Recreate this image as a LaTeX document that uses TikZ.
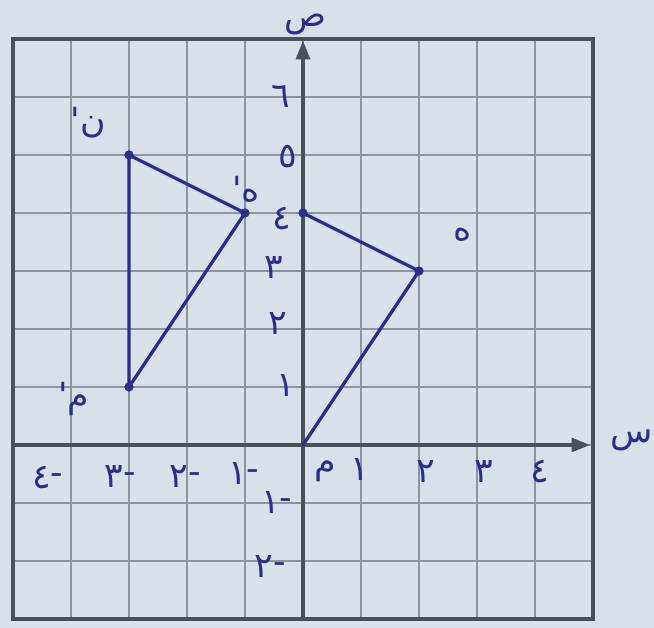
\documentclass[tikz,border=0pt]{standalone}
\usepackage{fontspec}
\newfontfamily\arabicfont[Script=Arabic]{DejaVu Sans}
\TeXXeTstate=1
\usepackage{tikz}
\usetikzlibrary{arrows.meta}
\definecolor{paper}{HTML}{D9E0E9}
\definecolor{gridgray}{HTML}{8E959E}
\definecolor{axisgray}{HTML}{4B5159}
\definecolor{inkblue}{HTML}{28308C}

\newcommand{\negnum}[1]{\hbox{#1}\raisebox{0.22ex}{\hbox{-}}}

\tikzset{
  lbl/.style={text=inkblue,font=\arabicfont\fontsize{17}{17}\selectfont,inner sep=0pt},
  inkline/.style={draw=inkblue,line width=1.6pt,line cap=round,line join=round},
  dotpt/.style={circle,fill=inkblue,inner sep=0pt,minimum size=1.6mm},
  axisline/.style={draw=axisgray,line width=1.6pt,-{Triangle[length=3.2mm,width=2.4mm]}}
}

\begin{document}
\begin{tikzpicture}
  %% Paper and grid
  \path[fill=paper,use as bounding box] (-5.224,-3.155) rectangle (6.052,7.672);
  \draw[gridgray,line width=0.9pt] (-5,-3) grid (5,7);
  \draw[axisgray,line width=1.6pt] (-5,-3) rectangle (5,7);

  %% Axes
  \coordinate (xstart) at (-5,0);
  \coordinate (xend)   at (4.95,0);
  \coordinate (ystart) at (0,-3);
  \coordinate (yend)   at (0,6.97);
  \draw[axisline] (xstart) -- (xend);
  \draw[axisline] (ystart) -- (yend);
  \node[lbl] (xname) at (5.66,0.08) {س};
  \node[lbl] (yname) at (0.05,7.25) {ص};

  %% Scale on the axes
  \node[lbl] (lblM) at (0.38,-0.45) {م};
  \node[lbl] (x1)  at (0.98,-0.43) {١};
  \node[lbl] (x2)  at (2.12,-0.45) {٢};
  \node[lbl] (x3)  at (3.12,-0.45) {٣};
  \node[lbl] (x4)  at (4.08,-0.45) {٤};
  \node[lbl] (xm1) at (-1.02,-0.5) {\negnum{١}};
  \node[lbl] (xm2) at (-2.03,-0.55) {\negnum{٢}};
  \node[lbl] (xm3) at (-3.15,-0.55) {\negnum{٣}};
  \node[lbl] (xm4) at (-4.4,-0.57) {\negnum{٤}};
  \node[lbl] (y1)  at (-0.3,1.03) {١};
  \node[lbl] (y2)  at (-0.44,2.09) {٢};
  \node[lbl] (y3)  at (-0.5,3.06) {٣};
  \node[lbl] (y4)  at (-0.36,3.9) {٤};
  \node[lbl] (y5)  at (-0.26,4.97) {٥};
  \node[lbl] (y6)  at (-0.38,6.0) {٦};
  \node[lbl] (ym1) at (-0.45,-1.0) {\negnum{١}};
  \node[lbl] (ym2) at (-0.56,-2.1) {\negnum{٢}};

  %% Triangle M N H
  \coordinate (M) at (0,0);
  \node[dotpt] (N) at (0,4) {};
  \node[dotpt] (H) at (2,3) {};
  \draw[inkline] (M) -- (H.center) -- (N.center);
  \node[lbl] (lblH) at (2.76,3.62) {ه};

  %% Image M' N' H'
  \node[dotpt] (Mp) at (-3,1) {};
  \node[dotpt] (Np) at (-3,5) {};
  \node[dotpt] (Hp) at (-1,4) {};
  \draw[inkline] (Mp.center) -- (Np.center) -- (Hp.center) -- cycle;
  \node[lbl] (lblMp) at (-3.95,0.8)  {\beginR م'\endR};
  \node[lbl] (lblNp) at (-3.7,5.55)  {\beginR ن'\endR};
  \node[lbl] (lblHp) at (-0.98,4.4)  {\beginR ه'\endR};
\end{tikzpicture}
\end{document}
